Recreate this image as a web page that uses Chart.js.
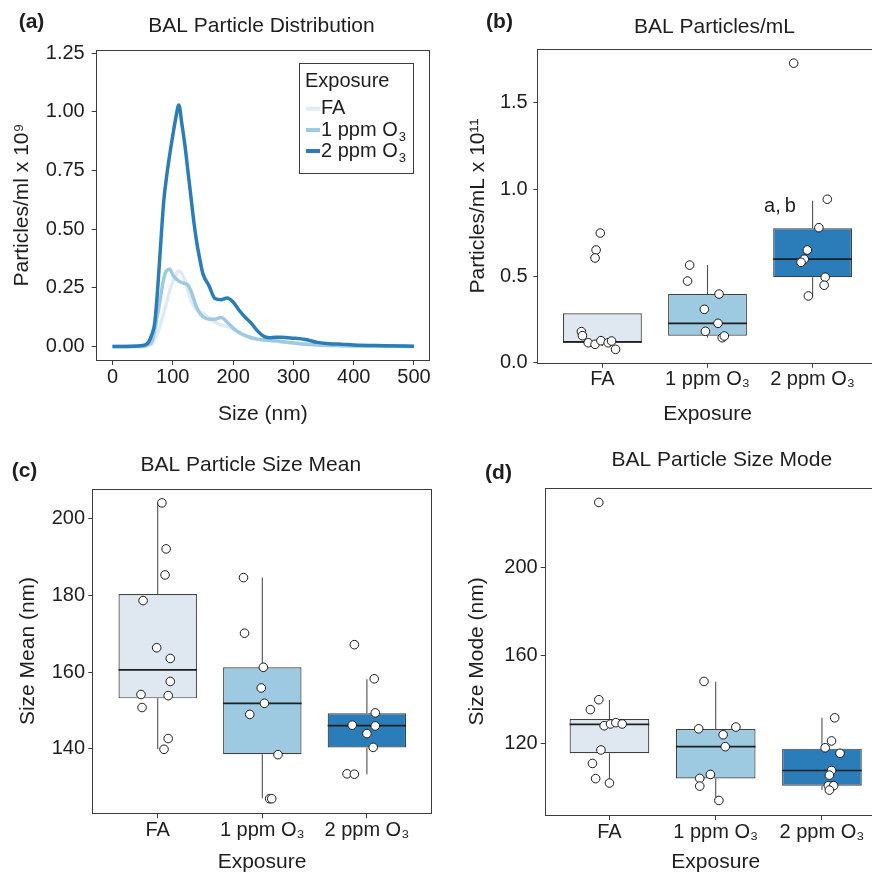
<!DOCTYPE html>
<html>
<head>
<meta charset="utf-8">
<script src="https://cdn.jsdelivr.net/npm/chart.js@4.4.1/dist/chart.umd.min.js"></script>
<style>
  html, body { margin: 0; padding: 0; background: #fff; }
  body { position: relative; width: 872px; height: 875px; overflow: hidden; }
  canvas { position: absolute; }
</style>
</head>
<body>
<canvas id="cA" width="436" height="440" style="left:0;top:0;width:436px;height:440px"></canvas>
<canvas id="cB" width="446" height="440" style="left:436px;top:0;width:446px;height:440px"></canvas>
<canvas id="cC" width="436" height="435" style="left:0;top:440px;width:436px;height:435px"></canvas>
<canvas id="cD" width="456" height="435" style="left:436px;top:440px;width:456px;height:435px"></canvas>
<script>
'use strict';

// ---- data ----
const GROUPS = ['FA', '1 ppm O₃', '2 ppm O₃'];
const LINE_COLORS = ['#deebf7', '#9ecae1', '#2b7dba'];
const BOX_FILLS = ['#dfe8f1', '#9ecae1', '#2b7dba'];

// (a) size distribution, particles/ml x 10^9
const SIZE_NM = [0, 50, 60, 65, 70, 75, 80, 85, 90, 95,
  100, 105, 110, 115, 120, 125, 130, 135, 140, 145,
  150, 160, 170, 180, 190, 200, 210, 220, 230, 240,
  250, 260, 270, 280, 300, 320, 340, 360, 380, 400, 450, 500];
const DIST_FA = [0, 0, 0.005, 0.01, 0.03, 0.058, 0.10, 0.145, 0.19, 0.24,
  0.275, 0.305, 0.322, 0.31, 0.284, 0.24, 0.20, 0.172, 0.155, 0.148,
  0.143, 0.122, 0.105, 0.092, 0.085, 0.077, 0.06, 0.048, 0.04, 0.032,
  0.028, 0.025, 0.023, 0.02, 0.018, 0.012, 0.008, 0.005, 0.004, 0.003, 0.002, 0.001];
const DIST_1PPM = [0, 0, 0.01, 0.02, 0.07, 0.14, 0.215, 0.29, 0.325, 0.33,
  0.305, 0.29, 0.279, 0.273, 0.269, 0.262, 0.238, 0.20, 0.165, 0.142,
  0.128, 0.117, 0.117, 0.124, 0.105, 0.079, 0.06, 0.047, 0.038, 0.032,
  0.029, 0.027, 0.025, 0.022, 0.015, 0.01, 0.007, 0.005, 0.004, 0.003, 0.002, 0.001];
const DIST_2PPM = [0, 0.005, 0.02, 0.05, 0.10, 0.25, 0.44, 0.62, 0.73, 0.82,
  0.90, 0.975, 1.03, 0.95, 0.86, 0.75, 0.64, 0.53, 0.44, 0.37,
  0.31, 0.26, 0.205, 0.20, 0.207, 0.19, 0.155, 0.125, 0.10, 0.068,
  0.045, 0.038, 0.04, 0.04, 0.036, 0.03, 0.018, 0.012, 0.01, 0.007, 0.004, 0.002];
const A_XTICKS = [0, 100, 200, 300, 400, 500];
const A_YTICKS = [0, 0.25, 0.5, 0.75, 1.0, 1.25];

// (b) particles/mL x 10^11
const B_Q1 = [0.115, 0.156, 0.493];
const B_MED = [0.12, 0.227, 0.597];
const B_Q3 = [0.285, 0.396, 0.776];
const B_LO = [0.095, 0.144, 0.385];
const B_HI = [0.285, 0.563, 0.935];
const B_PTS = [
  [0.748, 0.650, 0.604, 0.179, 0.156, 0.115, 0.106, 0.127, 0.115, 0.125, 0.077],
  [0.563, 0.471, 0.396, 0.308, 0.227, 0.181, 0.144, 0.154],
  [1.728, 0.943, 0.779, 0.650, 0.597, 0.579, 0.493, 0.447, 0.385]
];
const B_JIT = [
  [-0.02, -0.06, -0.07, -0.20, -0.19, -0.135, -0.07, -0.014, 0.055, 0.087, 0.125],
  [-0.17, -0.19, 0.11, -0.03, 0.10, -0.02, 0.14, 0.16],
  [-0.18, 0.14, 0.06, -0.05, -0.08, -0.11, 0.12, 0.11, -0.04]
];
const B_YTICKS = [0, 0.5, 1.0, 1.5];
const B_NOTE = { text: 'a,\u2009b', x: 2.69, y: 0.90 };

// (c) size mean (nm)
const C_Q1 = [153.2, 138.6, 140.4];
const C_MED = [160.6, 151.9, 146.1];
const C_Q3 = [180.4, 161.3, 149.3];
const C_LO = [140.0, 127.1, 133.4];
const C_HI = [204.2, 184.7, 158.2];
const C_PTS = [
  [204.2, 192.2, 185.4, 178.7, 166.4, 163.6, 157.6, 154.2, 153.9, 150.8, 142.7, 139.9],
  [184.7, 170.2, 161.3, 155.9, 151.9, 149.0, 138.5, 127.0, 127.0],
  [167.2, 158.3, 149.4, 146.2, 146.0, 144.0, 140.4, 133.5, 133.4]
];
const C_JIT = [
  [0.04, 0.08, 0.07, -0.14, -0.01, 0.12, 0.12, -0.16, 0.10, -0.15, 0.10, 0.06],
  [-0.18, -0.17, 0.01, -0.01, 0.02, -0.12, 0.15, 0.07, 0.09],
  [-0.12, 0.07, 0.08, -0.14, 0.08, 0.0, 0.06, -0.19, -0.12]
];
const C_YTICKS = [140, 160, 180, 200];

// (d) size mode (nm)
const D_Q1 = [115.5, 104.1, 100.8];
const D_MED = [128.6, 118.5, 107.7];
const D_Q3 = [131.0, 126.5, 117.6];
const D_LO = [102.1, 94.1, 98.8];
const D_HI = [139.7, 148.0, 131.6];
const D_PTS = [
  [229.3, 139.8, 135.3, 128.0, 128.8, 129.4, 128.8, 117.0, 110.9, 104.0, 102.0],
  [148.1, 126.6, 127.4, 123.9, 118.5, 105.9, 104.1, 100.6, 94.1],
  [131.6, 121.1, 118.0, 115.5, 107.7, 105.6, 100.8, 100.8, 98.8]
];
const D_JIT = [
  [-0.10, -0.10, -0.18, -0.05, 0.01, 0.06, 0.12, -0.08, -0.16, -0.13, 0.0],
  [-0.11, -0.16, 0.19, 0.07, 0.09, -0.05, -0.15, -0.15, 0.03],
  [0.12, 0.09, 0.03, 0.17, 0.09, 0.07, 0.06, 0.11, 0.07]
];
const D_YTICKS = [120, 160, 200];

// ---- style ----
const FONT = "'Liberation Sans', Arial, Helvetica, sans-serif";
const AXIS = '#3c3c3c';
const TXT = '#1e1e1e';
const BOX_HALF = 0.375;

Chart.defaults.font.family = FONT;
Chart.defaults.color = TXT;
Chart.defaults.animation = false;
Chart.defaults.events = [];
Chart.defaults.plugins.legend.display = false;
Chart.defaults.plugins.tooltip.enabled = false;

function drawSubText(ctx, text, x, y, size) {
  const sub = text.endsWith('₃');
  const base = sub ? text.slice(0, -1) : text;
  ctx.font = size + 'px ' + FONT;
  ctx.fillText(base, x, y);
  if (sub) {
    const w = ctx.measureText(base).width;
    ctx.font = Math.round(size * 0.65) + 'px ' + FONT;
    ctx.fillText('3', x + w + 1, y + size * 0.38);
  }
}

// titles, panel tags, frame, notes
const panelText = {
  id: 'panelText',
  afterDatasetsDraw(chart, args, o) {
    const ctx = chart.ctx;
    const a = chart.chartArea;
    ctx.save();
    ctx.strokeStyle = AXIS;
    ctx.lineWidth = 1;
    ctx.strokeRect(Math.round(a.left) - 0.5, Math.round(a.top) + 0.5,
      Math.round(a.right) - Math.round(a.left) + 1, Math.round(a.bottom) - Math.round(a.top));
    ctx.fillStyle = TXT;
    ctx.textBaseline = 'middle';
    ctx.textAlign = 'center';
    ctx.font = '21px ' + FONT;
    ctx.fillText(o.title, o.titleX - o.ox, o.titleY - o.oy);
    ctx.font = 'bold 21px ' + FONT;
    ctx.fillText(o.tag, o.tagX - o.ox, o.tagY - o.oy);
    (o.notes || []).forEach((n) => {
      ctx.font = '20px ' + FONT;
      ctx.fillText(n.text, chart.scales.x.getPixelForValue(n.x), chart.scales.y.getPixelForValue(n.y));
    });
    ctx.restore();
  }
};

// legend of panel (a)
const legendBox = {
  id: 'legendBox',
  afterDatasetsDraw(chart, args, o) {
    if (!o.show) return;
    const ctx = chart.ctx;
    ctx.save();
    ctx.fillStyle = '#fff';
    ctx.fillRect(o.x, o.y, o.w, o.h);
    ctx.strokeStyle = AXIS;
    ctx.lineWidth = 1;
    ctx.strokeRect(o.x + 0.5, o.y + 0.5, o.w, o.h);
    ctx.fillStyle = TXT;
    ctx.textAlign = 'left';
    ctx.textBaseline = 'middle';
    ctx.font = '20px ' + FONT;
    ctx.fillText('Exposure', o.x + 6, o.y + 18);
    GROUPS.forEach((g, i) => {
      const yy = o.y + o.rows[i];
      ctx.strokeStyle = LINE_COLORS[i];
      ctx.lineWidth = 4;
      ctx.beginPath();
      ctx.moveTo(o.x + 7, yy);
      ctx.lineTo(o.x + 21, yy);
      ctx.stroke();
      ctx.fillStyle = TXT;
      drawSubText(ctx, g, o.x + 22, yy, 20);
    });
    ctx.restore();
  }
};

function tickGrid() {
  return { display: true, drawOnChartArea: false, drawTicks: true, tickLength: 5, color: AXIS, tickColor: AXIS, offset: false };
}

// ---- (a) ----
new Chart(document.getElementById('cA'), {
  type: 'line',
  data: {
    datasets: [DIST_FA, DIST_1PPM, DIST_2PPM].map((arr, i) => ({
      label: GROUPS[i],
      data: SIZE_NM.map((x, k) => ({ x: x, y: arr[k] })),
      borderColor: LINE_COLORS[i],
      borderWidth: 3.5,
      pointRadius: 0,
      cubicInterpolationMode: 'monotone',
      order: 2 - i
    }))
  },
  options: {
    responsive: false,
    layout: { padding: { left: 0, top: 50, right: 7, bottom: 0 } },
    scales: {
      x: {
        type: 'linear', min: -26.2, max: 524.9,
        afterBuildTicks: (sc) => { sc.ticks = A_XTICKS.map((v) => ({ value: v })); },
        afterFit: (sc) => { sc.height = 80; },
        ticks: { font: { size: 20 }, padding: 0, maxRotation: 0, autoSkip: false },
        grid: tickGrid(),
        border: { display: false },
        title: { display: true, text: 'Size (nm)', font: { size: 21 }, padding: { top: 0, bottom: 13.4 } }
      },
      y: {
        type: 'linear', min: -0.057, max: 1.264,
        afterBuildTicks: (sc) => { sc.ticks = A_YTICKS.map((v) => ({ value: v })); },
        afterFit: (sc) => { sc.width = 96.7; },
        ticks: { font: { size: 20 }, padding: 7, callback: (v) => Number(v).toFixed(2) },
        grid: tickGrid(),
        border: { display: false },
        title: { display: true, text: 'Particles/ml x 10⁹', font: { size: 21 }, padding: { top: 9.4, bottom: 0 } }
      }
    },
    plugins: {
      panelText: { ox: 0, oy: 0, title: 'BAL Particle Distribution', titleX: 261.5, titleY: 26.5, tag: '(a)', tagX: 31.5, tagY: 22 },
      legendBox: { show: true, x: 299, y: 63, w: 114, h: 110, rows: [45.7, 67, 88] }
    }
  },
  plugins: [panelText, legendBox]
});

// ---- box panels ----
function boxChart(id, s) {
  const whisk = [];
  const meds = [];
  const pts = [];
  GROUPS.forEach((g, i) => {
    const c = i + 1;
    whisk.push({ x: c, y: s.lo[i] }, { x: c, y: s.q1[i] }, { x: c, y: null },
      { x: c, y: s.q3[i] }, { x: c, y: s.hi[i] }, { x: c, y: null });
    meds.push({ x: c - BOX_HALF, y: s.med[i] }, { x: c + BOX_HALF, y: s.med[i] }, { x: c, y: null });
    s.pts[i].forEach((v, k) => pts.push({ x: c + s.jit[i][k], y: v }));
  });
  return new Chart(document.getElementById(id), {
    type: 'bar',
    data: {
      datasets: [
        {
          type: 'bar', order: 3,
          data: GROUPS.map((g, i) => ({ x: i + 1, y: [s.q1[i], s.q3[i]] })),
          backgroundColor: BOX_FILLS, borderColor: '#404040', borderWidth: 1.2,
          borderSkipped: false, barPercentage: 0.75, categoryPercentage: 1
        },
        { type: 'line', order: 2, data: whisk, borderColor: '#505050', borderWidth: 1.1, pointRadius: 0, spanGaps: false },
        { type: 'line', order: 1, data: meds, borderColor: '#1f1f1f', borderWidth: 1.7, pointRadius: 0, spanGaps: false },
        {
          type: 'scatter', order: 0, data: pts, showLine: false,
          pointRadius: 4.3, pointBackgroundColor: '#ffffff', pointBorderColor: '#1a1a1a', pointBorderWidth: 1
        }
      ]
    },
    options: {
      responsive: false,
      layout: { padding: { left: 0, top: s.padTop, right: s.padRight, bottom: 0 } },
      scales: {
        x: {
          type: 'linear', min: s.xmin, max: s.xmax, offset: false,
          afterBuildTicks: (sc) => { sc.ticks = GROUPS.map((g, i) => ({ value: i + 1 })); },
          afterFit: (sc) => { sc.height = s.xh; },
          ticks: { font: { size: 20 }, padding: 0, maxRotation: 0, autoSkip: false, callback: (v, i) => GROUPS[i] },
          grid: tickGrid(),
          border: { display: false },
          title: { display: true, text: 'Exposure', font: { size: 21 }, padding: { top: 0, bottom: s.xtPad } }
        },
        y: {
          type: 'linear', min: s.ymin, max: s.ymax,
          afterBuildTicks: (sc) => { sc.ticks = s.yticks.map((v) => ({ value: v })); },
          afterFit: (sc) => { sc.width = s.yw; },
          ticks: { font: { size: 20 }, padding: s.ytPad, callback: s.fmt },
          grid: tickGrid(),
          border: { display: false },
          title: { display: true, text: s.ytitle, font: { size: 21 }, padding: { top: s.ytitlePad, bottom: 0 } }
        }
      },
      plugins: { panelText: s.text }
    },
    plugins: [panelText]
  });
}

boxChart('cB', {
  q1: B_Q1, med: B_MED, q3: B_Q3, lo: B_LO, hi: B_HI, pts: B_PTS, jit: B_JIT,
  xmin: 0.39, xmax: 3.61, ymin: 0, ymax: 1.808, yticks: B_YTICKS, fmt: (v) => Number(v).toFixed(1),
  padTop: 49.3, padRight: 4.8, yw: 102.3, xh: 77.3, ytPad: 5.6, ytitlePad: 29.4, xtPad: 13.4,
  ytitle: 'Particles/mL x 10¹¹',
  text: { ox: 436, oy: 0, title: 'BAL Particles/mL', titleX: 714.5, titleY: 27, tag: '(b)', tagX: 499.5, tagY: 22, notes: [B_NOTE] }
});

boxChart('cC', {
  q1: C_Q1, med: C_MED, q3: C_Q3, lo: C_LO, hi: C_HI, pts: C_PTS, jit: C_JIT,
  xmin: 0.384, xmax: 3.61, ymin: 123.2, ymax: 207.9, yticks: C_YTICKS, fmt: (v) => String(v),
  padTop: 48.7, padRight: 4, yw: 93.3, xh: 61.7, ytPad: 3.3, ytitlePad: 15.4, xtPad: 0.4,
  ytitle: 'Size Mean (nm)',
  text: { ox: 0, oy: 440, title: 'BAL Particle Size Mean', titleX: 250.8, titleY: 465, tag: '(c)', tagX: 24.5, tagY: 471.5 }
});

boxChart('cD', {
  q1: D_Q1, med: D_MED, q3: D_Q3, lo: D_LO, hi: D_HI, pts: D_PTS, jit: D_JIT,
  xmin: 0.4, xmax: 3.6, ymin: 87.5, ymax: 236, yticks: D_YTICKS, fmt: (v) => String(v),
  padTop: 47.7, padRight: 6.3, yw: 109.7, xh: 60, ytPad: 3, ytitlePad: 29.1, xtPad: 0.4,
  ytitle: 'Size Mode (nm)',
  text: { ox: 436, oy: 440, title: 'BAL Particle Size Mode', titleX: 721.8, titleY: 460, tag: '(d)', tagX: 498.5, tagY: 473 }
});
</script>
</body>
</html>
